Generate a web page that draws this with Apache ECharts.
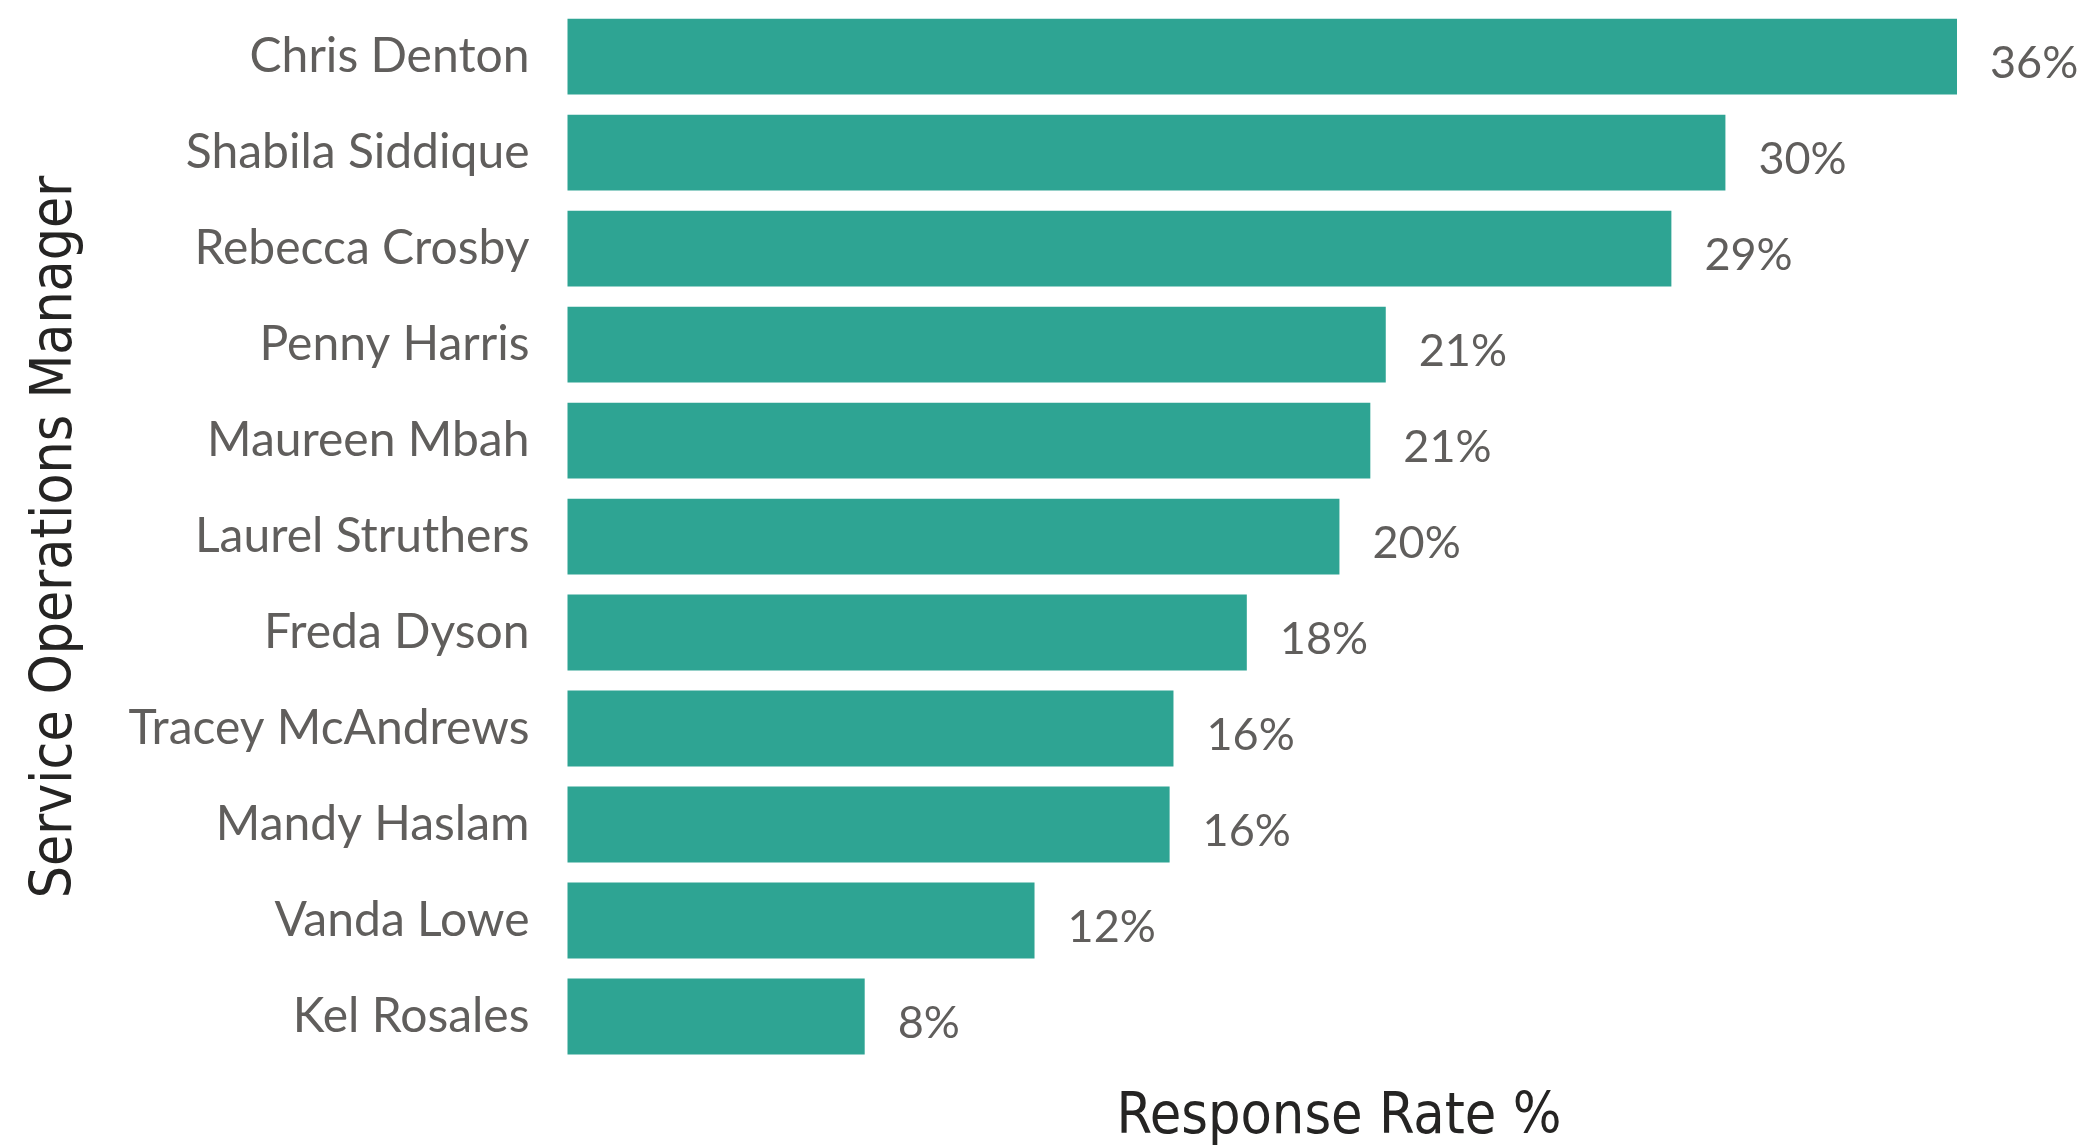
<!DOCTYPE html>
<html>
<head>
<meta charset="utf-8">
<title>Response Rate by Service Operations Manager</title>
<script src="https://cdn.jsdelivr.net/npm/echarts@6/dist/echarts.min.js"></script>
<style>
  html, body { margin: 0; padding: 0; background: #ffffff; }
  #chart { width: 2089px; height: 1147px; }
</style>
</head>
<body>
<div id="chart"></div>
<script>
// Managers, top to bottom
const managers = [
  'Chris Denton', 'Shabila Siddique', 'Rebecca Crosby', 'Penny Harris',
  'Maureen Mbah', 'Laurel Struthers', 'Freda Dyson', 'Tracey McAndrews',
  'Mandy Haslam', 'Vanda Lowe', 'Kel Rosales'
];
// Response rate in percent
const responseRate = [36.0, 30.0, 28.6, 21.2, 20.8, 20.0, 17.6, 15.7, 15.6, 12.1, 7.7];

const xAxisTitle = 'Response Rate %';
const yAxisTitle = 'Service Operations Manager';

const labelGrey = '#605E5C';
const titleDark = '#252423';
const barTeal = '#2EA493';

const chart = echarts.init(document.getElementById('chart'), null, { renderer: 'canvas' });

chart.setOption({
  animation: false,
  backgroundColor: '#ffffff',
  grid: { left: 567.5, right: 132, top: 8.6, bottom: 82.5, containLabel: false },
  xAxis: {
    type: 'value',
    min: 0,
    max: 36,
    show: false
  },
  yAxis: {
    type: 'category',
    data: managers,
    inverse: true,
    axisLine: { show: false },
    axisTick: { show: false },
    splitLine: { show: false },
    axisLabel: {
      margin: 38,
      color: labelGrey,
      fontFamily: 'Lato',
      fontSize: 48
    }
  },
  series: [{
    type: 'bar',
    data: responseRate,
    barCategoryGap: '21%',
    itemStyle: { color: barTeal },
    label: {
      show: true,
      position: 'right',
      distance: 33,
      offset: [0, 7],
      color: labelGrey,
      fontFamily: 'Lato',
      fontSize: 45,
      formatter: p => Math.round(p.value) + '%'
    }
  }],
  graphic: [
    {
      type: 'text',
      x: 56,
      y: 537,
      rotation: Math.PI / 2,
      style: {
        text: yAxisTitle,
        fill: titleDark,
        font: '56.5px "DejaVu Sans Condensed"',
        textAlign: 'center',
        textVerticalAlign: 'middle'
      }
    },
    {
      type: 'text',
      x: 1339,
      y: 1118,
      style: {
        text: xAxisTitle,
        fill: titleDark,
        font: '57px "DejaVu Sans Condensed"',
        textAlign: 'center',
        textVerticalAlign: 'middle'
      }
    }
  ]
});
</script>
</body>
</html>
